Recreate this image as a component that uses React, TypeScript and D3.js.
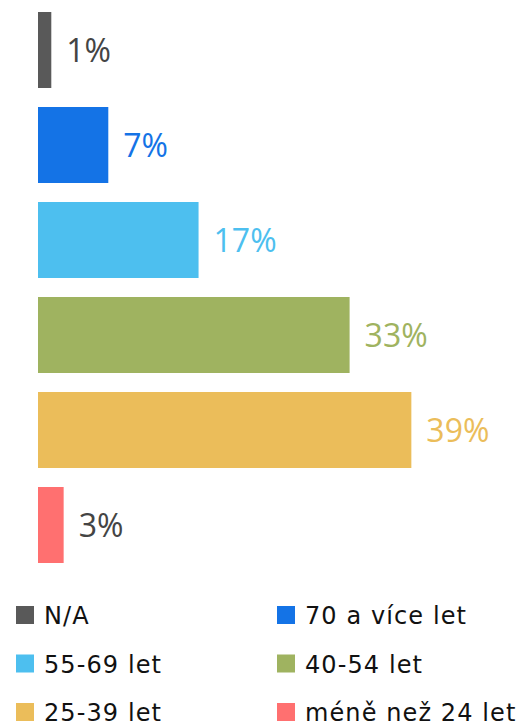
import React from 'react';
import * as d3 from 'd3';

// age groups, top to bottom
const categories = ['N/A', '70 a více let', '55-69 let', '40-54 let', '25-39 let', 'méně než 24 let'];
const values = [1.4, 7.4, 16.9, 32.8, 39.3, 2.7];
const colors = ['#595959', '#1473e6', '#4dbfef', '#9fb360', '#ebbd5a', '#ff7070'];
const labelColors = ['#444444', '#1473e6', '#4dbfef', '#9fb360', '#ebbd5a', '#444444'];

const width = 525;
const height = 722;

export default function App() {
  const y = d3.scaleBand<string>()
    .domain(categories)
    .range([12, 563])
    .paddingInner(0.2)
    .paddingOuter(0);

  const x = d3.scaleLinear()
    .domain([0, 40])
    .range([38, 418]);

  // legend: 2 columns, 3 rows
  const legendX = [16, 277];
  const legendY = (i: number) => 606 + Math.floor(i / 2) * 48.5;

  return (
    <svg
      width={width}
      height={height}
      style={{ position: 'absolute', left: 0, top: 0, display: 'block', background: '#fff' }}
    >
      <g>
        {categories.map((c, i) => (
          <rect
            key={c}
            x={x(0)}
            y={y(c)}
            width={x(values[i]) - x(0)}
            height={y.bandwidth()}
            fill={colors[i]}
          />
        ))}
      </g>
      <g style={{ font: '32px "Open Sans", sans-serif' }}>
        {categories.map((c, i) => (
          <text
            key={c}
            x={x(values[i]) + 15}
            y={(y(c) ?? 0) + y.bandwidth() / 2 + 12}
            fill={labelColors[i]}
          >
            {Math.round(values[i])}%
          </text>
        ))}
      </g>
      <g style={{ font: '24px "DejaVu Sans", sans-serif', letterSpacing: '1.1px' }}>
        {categories.map((c, i) => (
          <g key={c} transform={`translate(${legendX[i % 2]},${legendY(i)})`}>
            <rect width={18} height={18} fill={colors[i]} />
            <text x={28} y={18} fill="#111">{c}</text>
          </g>
        ))}
      </g>
    </svg>
  );
}
